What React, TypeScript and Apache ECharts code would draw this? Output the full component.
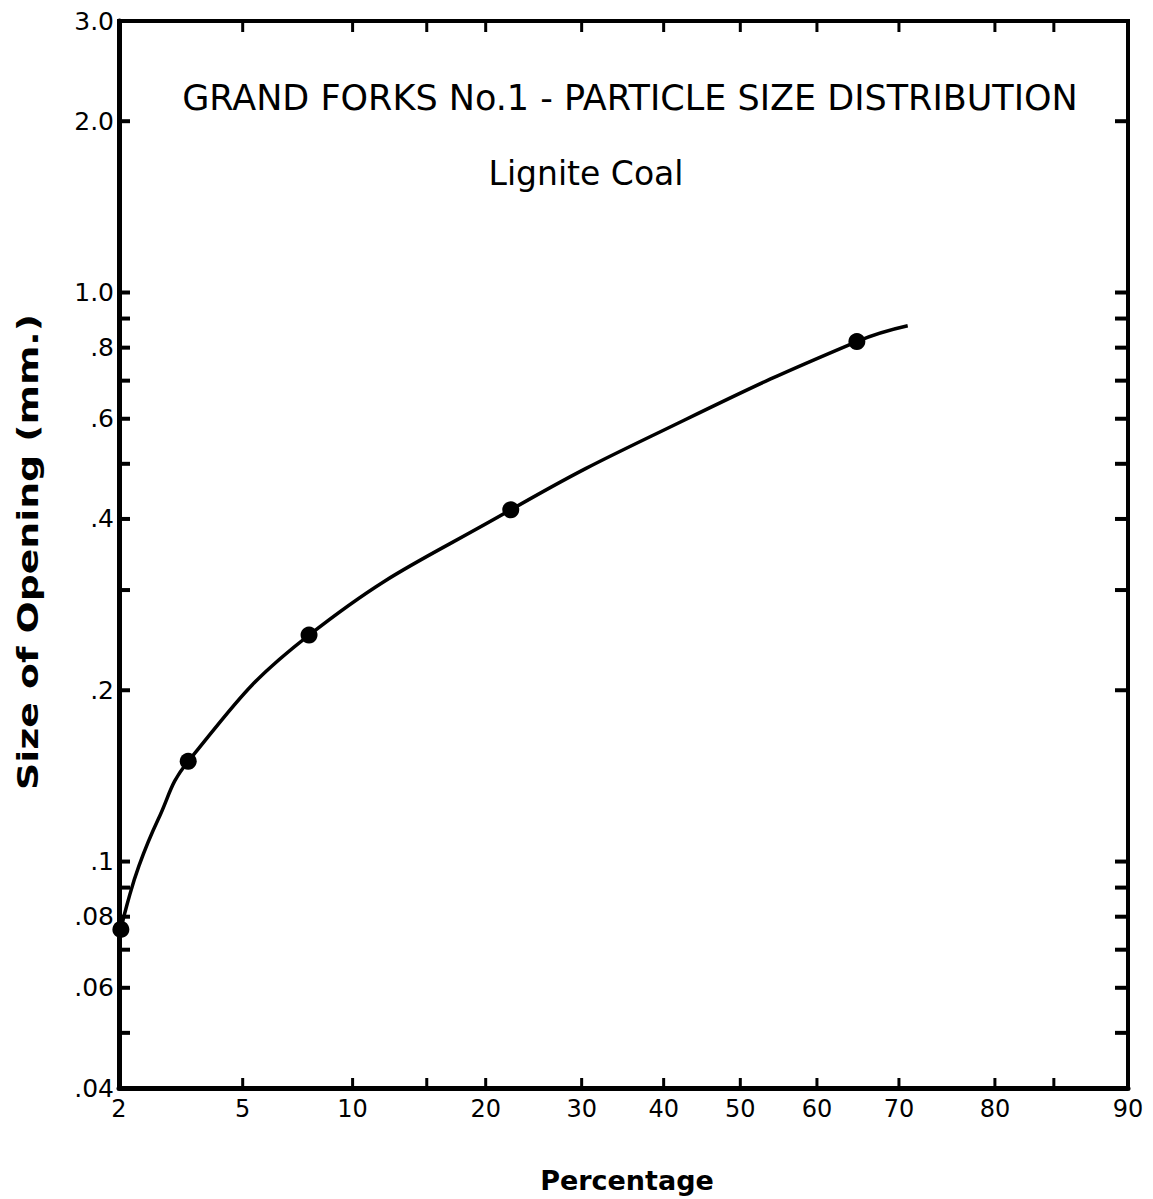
import React, { useEffect, useRef } from "react";
import * as echarts from "echarts";

// ---- data ----
const pointPercent = [2.03, 3.4, 7.7, 22.4, 65];
const pointSize = [0.076, 0.15, 0.25, 0.415, 0.82];

const curvePercent = [2.03, 2.13, 2.34, 2.71, 3.4, 7.7, 22.4, 42.7, 65, 71];
const curveSize = [0.076, 0.0839, 0.0982, 0.1183, 0.15, 0.25, 0.415, 0.597, 0.82, 0.874];

const xTickPercent = [5, 10, 15, 20, 30, 40, 50, 60, 70, 80, 85];
const xLabelPercent = [2, 5, 10, 20, 30, 40, 50, 60, 70, 80, 90];
const xLabelTexts = ["2", "5", "10", "20", "30", "40", "50", "60", "70", "80", "90"];

const yTickValues = [2, 1, 0.9, 0.8, 0.7, 0.6, 0.5, 0.4, 0.3, 0.2, 0.1, 0.09, 0.08, 0.07, 0.06, 0.05];
const yLabelValues = [3, 2, 1, 0.8, 0.6, 0.4, 0.2, 0.1, 0.08, 0.06, 0.04];
const yLabelTexts = ["3.0", "2.0", "1.0", ".8", ".6", ".4", ".2", ".1", ".08", ".06", ".04"];

const xMinPercent = 2;
const xMaxPercent = 90;
const yMin = 0.04;
const yMax = 3;

const titleText = "GRAND FORKS No.1 - PARTICLE SIZE DISTRIBUTION";
const subtitleText = "Lignite Coal";
const yName = "Size of Opening (mm.)";
const xName = "Percentage";

// inverse standard normal CDF (probability-paper scale)
function probit(p: number): number {
  const a = [-3.969683028665376e1, 2.209460984245205e2, -2.759285104469687e2, 1.38357751867269e2, -3.066479806614716e1, 2.506628277459239];
  const b = [-5.447609879822406e1, 1.615858368580409e2, -1.556989798598866e2, 6.680131188771972e1, -1.328068155288572e1];
  const c = [-7.784894002430293e-3, -3.223964580411365e-1, -2.400758277161838, -2.549732539343734, 4.374664141464968, 2.938163982698783];
  const d = [7.784695709041462e-3, 3.224671290700398e-1, 2.445134137142996, 3.754408661907416];
  const pl = 0.02425;
  const ph = 1 - pl;
  if (p < pl) {
    const q = Math.sqrt(-2 * Math.log(p));
    return (((((c[0] * q + c[1]) * q + c[2]) * q + c[3]) * q + c[4]) * q + c[5]) / ((((d[0] * q + d[1]) * q + d[2]) * q + d[3]) * q + 1);
  }
  if (p <= ph) {
    const q = p - 0.5;
    const r = q * q;
    return ((((((a[0] * r + a[1]) * r + a[2]) * r + a[3]) * r + a[4]) * r + a[5]) * q) / (((((b[0] * r + b[1]) * r + b[2]) * r + b[3]) * r + b[4]) * r + 1);
  }
  const q = Math.sqrt(-2 * Math.log(1 - p));
  return -(((((c[0] * q + c[1]) * q + c[2]) * q + c[3]) * q + c[4]) * q + c[5]) / ((((d[0] * q + d[1]) * q + d[2]) * q + d[3]) * q + 1);
}
const zp = (pct: number) => probit(pct / 100);

const FONT = '"DejaVu Sans", "Liberation Sans", sans-serif';

export default function App() {
  const ref = useRef<HTMLDivElement>(null);

  useEffect(() => {
    if (!ref.current) return;
    const chart = echarts.init(ref.current, undefined, { renderer: "svg" });
    const xMin = zp(xMinPercent);
    const xMax = zp(xMaxPercent);

    const txt = (text: string, x: number, y: number, size: number, align: string, valign: string, weight = "bold") => ({
      type: "text",
      x,
      y,
      style: {
        text,
        fill: "#000",
        font: `${weight} ${size}px ${FONT}`,
        align,
        verticalAlign: valign,
        textAlign: align,
        textVerticalAlign: valign,
      },
    });

    const option: any = {
      animation: false,
      backgroundColor: "#fff",
      grid: {
        left: 119,
        right: 25,
        top: 21,
        bottom: 111,
        show: true,
        borderColor: "#000",
        borderWidth: 4,
      },
      xAxis: {
        type: "value",
        min: xMin,
        max: xMax,
        axisLine: { show: true, onZero: false, lineStyle: { color: "#000", width: 5 } },
        axisTick: { show: false },
        axisLabel: { show: false },
        splitLine: { show: false },
      },
      yAxis: {
        type: "log",
        logBase: 10,
        min: yMin,
        max: yMax,
        axisLine: { show: true, onZero: false, lineStyle: { color: "#000", width: 5 } },
        axisTick: { show: false },
        axisLabel: { show: false },
        splitLine: { show: false },
        minorSplitLine: { show: false },
      },
      graphic: [
        txt(titleText, 630, 98, 35, "center", "middle", "normal"),
        txt(subtitleText, 586, 173, 33, "center", "middle", "normal"),
        { ...txt(yName, 28, 552, 28, "center", "middle"), rotation: Math.PI / 2, scaleX: 1.35 },
        txt(xName, 627, 1180, 27, "center", "middle"),
      ],
      series: [
        {
          type: "line",
          data: curvePercent.map((p, i) => [zp(p), curveSize[i]]),
          smooth: 0.45,
          showSymbol: false,
          symbol: "none",
          lineStyle: { color: "#000", width: 3.5 },
          silent: true,
          z: 3,
        },
        {
          type: "scatter",
          data: pointPercent.map((p, i) => [zp(p), pointSize[i]]),
          symbol: "circle",
          symbolSize: 17,
          itemStyle: { color: "#000", opacity: 1 },
          silent: true,
          z: 4,
        },
        {
          type: "custom",
          clip: false,
          silent: true,
          data: xTickPercent.map((p) => [zp(p), yMin]),
          renderItem: (_params: any, api: any) => {
            const xv = api.value(0);
            const b = api.coord([xv, yMin]);
            const t = api.coord([xv, yMax]);
            return {
              type: "group",
              children: [
                { type: "line", shape: { x1: b[0], y1: b[1], x2: b[0], y2: b[1] - 10 }, style: { stroke: "#000", lineWidth: 3 } },
                { type: "line", shape: { x1: t[0], y1: t[1], x2: t[0], y2: t[1] + 11 }, style: { stroke: "#000", lineWidth: 3 } },
              ],
            };
          },
          z: 5,
        },
        {
          type: "custom",
          clip: false,
          silent: true,
          data: yTickValues.map((v) => [xMin, v]),
          renderItem: (_params: any, api: any) => {
            const yv = api.value(1);
            const l = api.coord([xMin, yv]);
            const r = api.coord([xMax, yv]);
            return {
              type: "group",
              children: [
                { type: "line", shape: { x1: l[0], y1: l[1], x2: l[0] + 11, y2: l[1] }, style: { stroke: "#000", lineWidth: 4 } },
                { type: "line", shape: { x1: r[0], y1: r[1], x2: r[0] - 13, y2: r[1] }, style: { stroke: "#000", lineWidth: 4 } },
              ],
            };
          },
          z: 5,
        },
        {
          type: "custom",
          clip: false,
          silent: true,
          data: xLabelPercent.map((p, i) => [zp(p), yMin, i]),
          renderItem: (params: any, api: any) => {
            const xv = api.value(0);
            const b = api.coord([xv, yMin]);
            return {
              type: "text",
              x: b[0],
              y: b[1] + 21,
              style: {
                text: xLabelTexts[params.dataIndex],
                fill: "#000",
                font: `normal 24px ${FONT}`,
                align: "center",
                verticalAlign: "middle",
                textAlign: "center",
                textVerticalAlign: "middle",
              },
            };
          },
          z: 5,
        },
        {
          type: "custom",
          clip: false,
          silent: true,
          data: yLabelValues.map((v) => [xMin, v]),
          renderItem: (params: any, api: any) => {
            const yv = api.value(1);
            const l = api.coord([xMin, yv]);
            return {
              type: "text",
              x: l[0] - 5,
              y: l[1],
              style: {
                text: yLabelTexts[params.dataIndex],
                fill: "#000",
                font: `normal 25px ${FONT}`,
                align: "right",
                verticalAlign: "middle",
                textAlign: "right",
                textVerticalAlign: "middle",
              },
            };
          },
          z: 5,
        },
      ],
    };

    chart.setOption(option);
    return () => {
      chart.dispose();
    };
  }, []);

  return (
    <div
      ref={ref}
      style={{ position: "fixed", left: 0, top: 0, width: 1153, height: 1199, background: "#fff" }}
    />
  );
}
